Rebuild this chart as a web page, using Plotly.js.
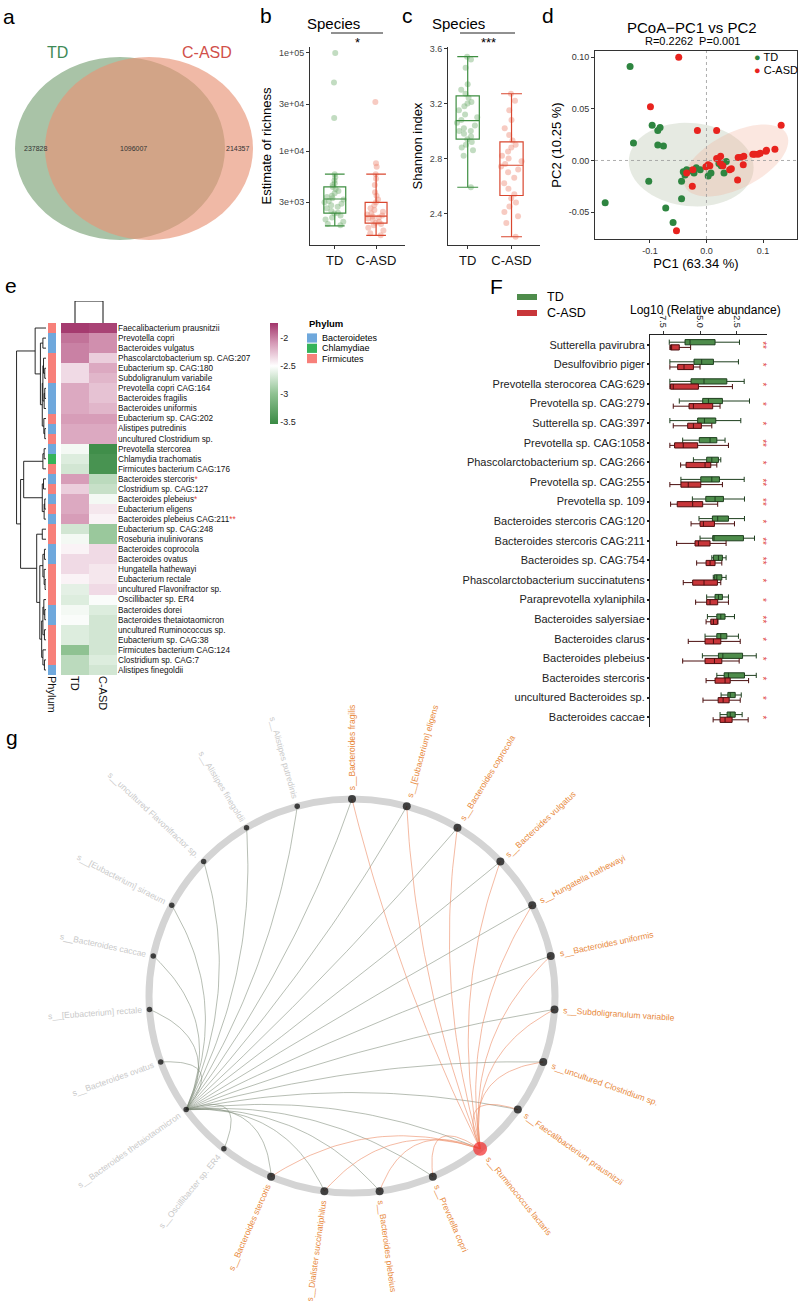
<!DOCTYPE html>
<html>
<head>
<meta charset="utf-8">
<script src="https://cdn.plot.ly/plotly-3.0.1.min.js"></script>
<style>
html,body{margin:0;padding:0;background:#ffffff;}
#chart{width:800px;height:1301px;}
</style>
</head>
<body>
<div id="chart"></div>
<script>
// ===================== DATA =====================
// a: Venn
const vennSets = ['TD', 'C-ASD'];
const vennCounts = [237828, 1096007, 214357]; // TD only, shared, C-ASD only

// b / c: alpha diversity
const groupNames = ['TD', 'C-ASD'];
const richQ1 = [2330, 1840];
const richMedian = [3240, 2170];
const richQ3 = [4300, 3000];
const richLow = [1720, 1380];
const richHigh = [5820, 5820];
const richTD = [1750,1800,1900,2000,2100,2200,2300,2350,2450,2600,2700,2800,2900,3000,3100,3200,3300,3400,3500,3700,3900,4100,4300,4500,4700,5000,5400,5800,21700,50000,100000];
const richCASD = [1380,1450,1550,1650,1750,1800,1850,1900,2000,2050,2100,2150,2200,2250,2300,2400,2500,2600,2800,3000,3200,3500,3800,4500,5200,5800,6900,7500,31600];

const shanQ1 = [2.94, 2.53];
const shanMedian = [3.075, 2.75];
const shanQ3 = [3.255, 2.92];
const shanLow = [2.59, 2.23];
const shanHigh = [3.54, 3.27];
const shanTD = [2.59,2.82,2.86,2.88,2.9,2.92,2.94,2.96,2.98,3.0,3.0,3.02,3.04,3.06,3.08,3.1,3.12,3.15,3.18,3.2,3.21,3.24,3.27,3.3,3.34,3.46,3.52,3.54];
const shanCASD = [2.23,2.33,2.38,2.41,2.45,2.48,2.51,2.54,2.58,2.62,2.66,2.7,2.72,2.74,2.76,2.78,2.8,2.82,2.85,2.88,2.9,2.93,2.97,3.02,3.08,3.15,3.22,3.27];

// d: PCoA
const pcoaTDx = [-0.135,-0.096,-0.082,-0.086,-0.129,-0.086,-0.076,-0.179,-0.102,-0.044,-0.072,-0.059,-0.044,-0.038,-0.035,-0.029,-0.022,-0.011,0.003,0.008,0.022,0.026,0.031,0.035,-0.041,-0.018,0.029];
const pcoaTDy = [0.091,0.034,0.032,0.029,0.017,0.015,0.014,-0.041,-0.020,-0.037,-0.046,-0.060,-0.020,-0.014,-0.009,-0.010,-0.012,-0.009,-0.015,-0.012,-0.003,-0.005,-0.012,-0.001,-0.011,-0.007,-0.003];
const pcoaCx = [-0.049,-0.099,-0.016,0.018,0.132,0.121,0.105,0.106,0.091,0.082,0.066,0.060,0.056,0.065,0.055,0.044,0.041,0.024,0.018,0.025,0.006,-0.001,0.003,-0.024,-0.035,-0.025,-0.053,0.029,0.085,0.095];
const pcoaCy = [0.100,0.052,0.029,0.029,0.034,0.011,0.009,0.010,0.006,0.006,0.004,0.003,0.003,-0.004,-0.019,-0.008,-0.009,-0.002,0.002,0.004,-0.005,-0.006,-0.004,-0.009,-0.012,-0.025,-0.068,-0.005,0.006,0.007];
// confidence ellipses: centre, semi-axis A, semi-axis B
const ellTD = [-0.027, -0.004, 0.110, -0.006, 0.008, 0.040];
const ellCASD = [0.052, 0.000, 0.092, 0.022, -0.010, 0.027];

// e: heatmap
const hmSpecies = ['Faecalibacterium prausnitzii','Prevotella copri','Bacteroides vulgatus','Phascolarctobacterium sp. CAG:207','Eubacterium sp. CAG:180','Subdoligranulum variabile','Prevotella copri CAG:164','Bacteroides fragilis','Bacteroides uniformis','Eubacterium sp. CAG:202','Alistipes putredinis','uncultured Clostridium sp.','Prevotella stercorea','Chlamydia trachomatis','Firmicutes bacterium CAG:176','Bacteroides stercoris','Clostridium sp. CAG:127','Bacteroides plebeius','Eubacterium eligens','Bacteroides plebeius CAG:211','Eubacterium sp. CAG:248','Roseburia inulinivorans','Bacteroides coprocola','Bacteroides ovatus','Hungatella hathewayi','Eubacterium rectale','uncultured Flavonifractor sp.','Oscillibacter sp. ER4','Bacteroides dorei','Bacteroides thetaiotaomicron','uncultured Ruminococcus sp.','Eubacterium sp. CAG:38','Firmicutes bacterium CAG:124','Clostridium sp. CAG:7','Alistipes finegoldii'];
const hmStars = ['','','','','','','','','','','','','','','','*','','*','','**','','','','','','','','','','','','','','',''];
const hmTD = [-1.75,-1.95,-2.0,-2.0,-2.35,-2.35,-2.15,-2.15,-2.15,-2.1,-2.15,-2.15,-2.55,-2.65,-2.7,-2.1,-2.3,-2.15,-2.15,-2.1,-2.7,-2.55,-2.45,-2.35,-2.35,-2.45,-2.62,-2.65,-2.55,-2.52,-2.65,-2.65,-3.0,-2.8,-2.8];
const hmCASD = [-1.78,-2.05,-2.05,-2.3,-2.15,-2.2,-2.25,-2.25,-2.2,-2.1,-2.15,-2.15,-3.5,-3.45,-3.45,-2.8,-2.75,-2.55,-2.4,-2.45,-2.95,-2.95,-2.35,-2.35,-2.4,-2.4,-2.35,-2.52,-2.65,-2.7,-2.7,-2.7,-2.7,-2.65,-2.7];
const phylumNames = ['Bacteroidetes','Chlamydiae','Firmicutes'];
const hmPhylum = ['Firmicutes','Bacteroidetes','Bacteroidetes','Firmicutes','Firmicutes','Firmicutes','Bacteroidetes','Bacteroidetes','Bacteroidetes','Firmicutes','Bacteroidetes','Firmicutes','Bacteroidetes','Chlamydiae','Firmicutes','Bacteroidetes','Firmicutes','Bacteroidetes','Firmicutes','Bacteroidetes','Firmicutes','Firmicutes','Bacteroidetes','Bacteroidetes','Firmicutes','Firmicutes','Firmicutes','Firmicutes','Bacteroidetes','Bacteroidetes','Firmicutes','Firmicutes','Firmicutes','Firmicutes','Bacteroidetes'];
// row clustering tree: [left, right, height]
const rowTree = [
  [0, [[1,2,0.1], [[[3,[4,5,0.04],0.08],[[6,7,0.04],8,0.06],0.1],[9,[10,11,0.04],0.07],0.12],0.18], 0.35],
  [ [[[12,13,0.06],14,0.1], [[15,16,0.08],[[17,18,0.04],19,0.06],0.12], 0.72],
    [[20,21,0.12], [[[22,23,0.05],[24,[25,26,0.03],0.06],0.1],[[[27,[28,29,0.04],0.07],[30,31,0.05],0.1],[32,[33,34,0.05],0.1],0.14],0.2],0.3],
    0.82],
  0.95];
const colTree = [0, 1, 1];

// F: differential species
const fSpecies = ['Sutterella pavirubra','Desulfovibrio piger','Prevotella sterocorea CAG:629','Prevotella sp. CAG:279','Sutterella sp. CAG:397','Prevotella sp. CAG:1058','Phascolarctobacterium sp. CAG:266','Prevotella sp. CAG:255','Prevotella sp. 109','Bacteroides stercoris CAG:120','Bacteroides stercoris CAG:211','Bacteroides sp. CAG:754','Phascolarctobacterium succinatutens','Paraprevotella xylaniphila','Bacteroides salyersiae','Bacteroides clarus','Bacteroides plebeius','Bacteroides stercoris','uncultured Bacteroides sp.','Bacteroides caccae'];
const fTDlo  = [-7.09,-7.05,-7.05,-6.41,-7.05,-6.18,-5.45,-6.3,-5.52,-5.07,-5.0,-4.2,-4.1,-4.55,-4.5,-4.66,-4.84,-3.86,-3.57,-3.64];
const fTDq1  = [-6.02,-5.41,-5.61,-4.82,-5.16,-5.05,-4.55,-4.95,-4.61,-4.16,-4.14,-4.09,-4.03,-3.98,-3.86,-3.86,-3.75,-3.36,-3.11,-3.16];
const fTDmed = [-5.68,-4.89,-4.73,-4.43,-4.70,-4.32,-4.2,-4.2,-3.98,-3.80,-4.05,-3.75,-3.86,-3.75,-3.59,-3.59,-3.45,-3.07,-2.95,-2.95];
const fTDq3  = [-3.98,-4.09,-3.18,-3.48,-3.93,-3.86,-3.75,-3.68,-3.41,-3.07,-2.05,-3.48,-3.52,-3.48,-3.30,-3.18,-2.11,-1.98,-2.61,-2.61];
const fTDhi  = [-2.32,-2.39,-2.0,-1.64,-2.23,-3.30,-3.59,-2.0,-1.98,-1.98,-1.30,-3.23,-3.23,-3.07,-2.66,-2.39,-1.18,-1.18,-2.20,-2.14];
const fClo   = [-7.05,-7.05,-7.05,-6.82,-6.82,-7.05,-6.32,-7.05,-7.0,-5.61,-6.59,-5.23,-6.14,-5.30,-4.59,-5.80,-6.18,-4.59,-4.8,-4.11];
const fCq1   = [-7.0,-6.52,-7.0,-5.75,-5.84,-6.73,-5.95,-6.3,-6.55,-5.0,-5.34,-4.59,-5.5,-4.55,-4.27,-4.66,-4.66,-3.98,-3.77,-3.64];
const fCmed  = [-6.93,-6.09,-6.82,-5.45,-5.45,-6.14,-4.66,-5.8,-5.5,-4.77,-5.11,-4.32,-4.73,-4.32,-4.09,-4.09,-4.02,-3.30,-3.43,-3.3];
const fCq3   = [-6.41,-5.45,-5.11,-4.14,-4.91,-5.16,-4.27,-4.95,-4.82,-4.02,-4.32,-3.98,-3.82,-3.80,-3.82,-3.59,-3.52,-2.95,-3.02,-2.82];
const fChi   = [-5.64,-5.0,-2.80,-3.64,-4.2,-3.07,-3.86,-3.48,-3.80,-2.66,-3.23,-3.52,-3.59,-3.07,-3.78,-2.27,-2.34,-1.70,-2.27,-1.73];
const fSig = ['**','*','*','*','*','**','*','**','**','*','**','**','*','*','**','*','*','*','*','*'];

// g: correlation network
const chordNodes = ['Bacteroides fragilis','[Eubacterium] eligens','Bacteroides coprocola','Bacteroides vulgatus','Hungatella hathewayi','Bacteroides uniformis','Subdoligranulum variabile','uncultured Clostridium sp.','Faecalibacterium prausnitzii','Ruminococcus lactaris','Prevotella copri','Bacteroides plebeius','Dialister succinatiphilus','Bacteroides stercoris','Oscillibacter sp. ER4','Bacteroides thetaiotaomicron','Bacteroides ovatus','[Eubacterium] rectale','Bacteroides caccae','[Eubacterium] siraeum','uncultured Flavonifractor sp.','Alistipes finegoldii','Alistipes putredinis'];
const chordSignificant = [1,1,1,1,1,1,1,1,1,1,1,1,1,1,0,0,0,0,0,0,0,0,0];
const hubTheta = 'Bacteroides thetaiotaomicron';
const thetaTargets = ['Bacteroides fragilis','[Eubacterium] eligens','Bacteroides coprocola','Bacteroides vulgatus','Hungatella hathewayi','Bacteroides uniformis','Subdoligranulum variabile','uncultured Clostridium sp.','Faecalibacterium prausnitzii','Ruminococcus lactaris','Prevotella copri','Bacteroides plebeius','Dialister succinatiphilus','Bacteroides stercoris','Oscillibacter sp. ER4','Bacteroides ovatus','[Eubacterium] rectale','Bacteroides caccae','[Eubacterium] siraeum','uncultured Flavonifractor sp.','Alistipes finegoldii','Alistipes putredinis'];
const hubLactaris = 'Ruminococcus lactaris';
const lactarisTargets = ['Bacteroides fragilis','[Eubacterium] eligens','Bacteroides coprocola','Bacteroides vulgatus','Hungatella hathewayi','Bacteroides uniformis','Subdoligranulum variabile','uncultured Clostridium sp.','Faecalibacterium prausnitzii','Prevotella copri','Bacteroides plebeius','Dialister succinatiphilus','Bacteroides stercoris'];

// ===================== STYLE / HELPERS =====================
const W = 800, H = 1301;
const PX = v => v / W, PY = v => 1 - v / H;
const cTDline = '#3E8E41', cCline = '#D9472F';
const cTDpt = 'rgba(120,178,118,0.45)', cCpt = 'rgba(238,140,120,0.45)';
const phylumColors = ['#6FA8DC', '#35B35A', '#F7807A'];
const data = [], shapes = [], annotations = [];
function txt(x, y, text, size, extra) {
  annotations.push(Object.assign({xref: 'x', yref: 'y', x: x, y: y, text: text, showarrow: false,
    font: {size: size, color: '#000'}, xanchor: 'center', yanchor: 'middle'}, extra || {}));
}

// ---------- panel letters ----------
txt(9, 16, 'a', 21); txt(266, 15, 'b', 21); txt(407, 15, 'c', 21); txt(548, 15, 'd', 21);
txt(11, 285, 'e', 21); txt(496, 286, 'F', 21); txt(12, 737, 'g', 21);

// ---------- a: Venn ----------
shapes.push({type: 'circle', xref: 'x', yref: 'y', x0: 15, x1: 225, y0: 57, y1: 240, fillcolor: '#A9C3A7', line: {width: 0}, layer: 'below'});
shapes.push({type: 'circle', xref: 'x', yref: 'y', x0: 45, x1: 253, y0: 57, y1: 240, fillcolor: 'rgba(232,148,118,0.65)', line: {width: 0}, layer: 'below'});
txt(57, 52, vennSets[0], 16, {font: {size: 16, color: '#3E8A56'}});
txt(207, 52, vennSets[1], 16, {font: {size: 16, color: '#D1504A'}});
txt(35, 148, String(vennCounts[0]), 7, {font: {size: 7, color: '#333'}});
txt(133, 148, String(vennCounts[1]), 7, {font: {size: 7, color: '#333'}});
txt(237, 148, String(vennCounts[2]), 7, {font: {size: 7, color: '#333'}});

// ---------- b & c: boxplots ----------
function alphaTraces(ax, ay, q1, med, q3, lo, hi, ptsTD, ptsC) {
  const sets = [[ptsTD, 0, cTDline, cTDpt], [ptsC, 1, cCline, cCpt]];
  sets.forEach(s => {
    data.push({type: 'box', x: s[0].map(() => groupNames[s[1]]), y: s[0], xaxis: ax, yaxis: ay, offsetgroup: 'v',
      boxpoints: 'all', jitter: 1, pointpos: 0, line: {color: 'rgba(0,0,0,0)'}, fillcolor: 'rgba(0,0,0,0)',
      marker: {color: s[3], size: 6, line: {width: 0}}, hoverinfo: 'skip'});
  });
  sets.forEach(s => {
    const i = s[1];
    data.push({type: 'box', x: [groupNames[i]], q1: [q1[i]], median: [med[i]], q3: [q3[i]], lowerfence: [lo[i]], upperfence: [hi[i]],
      xaxis: ax, yaxis: ay, offsetgroup: 'v', boxpoints: false, whiskerwidth: 0.9,
      line: {color: s[2], width: 1.2}, fillcolor: 'rgba(0,0,0,0)', hoverinfo: 'skip'});
  });
}
alphaTraces('x2', 'y2', richQ1, richMedian, richQ3, richLow, richHigh, richTD, richCASD);
alphaTraces('x3', 'y3', shanQ1, shanMedian, shanQ3, shanLow, shanHigh, shanTD, shanCASD);
txt(333, 23, 'Species', 15); txt(458, 23, 'Species', 15);
shapes.push({type: 'line', xref: 'x', yref: 'y', x0: 331, x1: 383, y0: 33, y1: 33, line: {color: '#222', width: 1}});
shapes.push({type: 'line', xref: 'x', yref: 'y', x0: 460, x1: 515, y0: 33, y1: 33, line: {color: '#222', width: 1}});
txt(357, 42, '*', 13); txt(488, 42, '***', 13);

// ---------- d: PCoA ----------
function ellipsePath(e) {
  let p = '';
  for (let i = 0; i <= 72; i++) {
    const t = i / 72 * 2 * Math.PI;
    const x = e[0] + e[2] * Math.cos(t) + e[4] * Math.sin(t);
    const y = e[1] + e[3] * Math.cos(t) + e[5] * Math.sin(t);
    p += (i === 0 ? 'M' : 'L') + x + ',' + y;
  }
  return p + 'Z';
}
shapes.push({type: 'path', xref: 'x4', yref: 'y4', path: ellipsePath(ellTD), fillcolor: 'rgba(165,178,150,0.28)', line: {width: 0}, layer: 'below'});
shapes.push({type: 'path', xref: 'x4', yref: 'y4', path: ellipsePath(ellCASD), fillcolor: 'rgba(242,170,145,0.28)', line: {width: 0}, layer: 'below'});
shapes.push({type: 'line', xref: 'x4', yref: 'y4 domain', x0: 0, x1: 0, y0: 0, y1: 1, line: {color: '#999', width: 0.8, dash: 'dot'}});
shapes.push({type: 'line', xref: 'x4 domain', yref: 'y4', x0: 0, x1: 1, y0: 0, y1: 0, line: {color: '#999', width: 0.8, dash: 'dot'}});
data.push({type: 'scatter', mode: 'markers', x: pcoaTDx, y: pcoaTDy, xaxis: 'x4', yaxis: 'y4', marker: {color: '#2E8540', size: 7}, hoverinfo: 'skip'});
data.push({type: 'scatter', mode: 'markers', x: pcoaCx, y: pcoaCy, xaxis: 'x4', yaxis: 'y4', marker: {color: '#E8231E', size: 7}, hoverinfo: 'skip'});
txt(692, 27, 'PCoA\u2212PC1 vs PC2', 15);
txt(692, 41, 'R=0.2262  P=0.001', 11);
txt(752, 57, '<span style="color:#2E8540">\u25CF</span> ' + groupNames[0], 11, {xanchor: 'left'});
txt(752, 70, '<span style="color:#E8231E">\u25CF</span> ' + groupNames[1], 11, {xanchor: 'left'});

// ---------- e: heatmap ----------
const rowIdx = hmSpecies.map((_, i) => i);
data.push({type: 'heatmap', x: groupNames, y: rowIdx, z: hmSpecies.map((_, i) => [hmTD[i], hmCASD[i]]),
  xaxis: 'x5', yaxis: 'y5', zmin: -3.54, zmax: -1.73,
  colorscale: [[0, '#3A8A44'], [0.3, '#8FC292'], [0.575, '#FFFFFF'], [0.8, '#D69BB7'], [1, '#A2356B']],
  colorbar: {x: PX(270), xanchor: 'left', y: PY(373.5), yanchor: 'middle', len: 101 / H, lenmode: 'fraction',
    thickness: 8, thicknessmode: 'pixels', outlinewidth: 0, xpad: 0, ypad: 0, ticks: '',
    tickvals: [-2, -2.5, -3, -3.5], ticktext: ['-2', '-2.5', '-3', '-3.5'], tickfont: {size: 9, color: '#222'}},
  hoverinfo: 'skip'});
data.push({type: 'heatmap', x: ['Phylum'], y: rowIdx, z: hmPhylum.map(p => [phylumNames.indexOf(p)]),
  xaxis: 'x6', yaxis: 'y6', zmin: 0, zmax: 2, showscale: false,
  colorscale: [[0, phylumColors[0]], [0.333, phylumColors[0]], [0.334, phylumColors[1]], [0.666, phylumColors[1]], [0.667, phylumColors[2]], [1, phylumColors[2]]],
  hoverinfo: 'skip'});
function dendro(node, xs, ys, rowMode) {
  if (typeof node === 'number') return {pos: node, h: 0};
  const a = dendro(node[0], xs, ys, rowMode), b = dendro(node[1], xs, ys, rowMode), h = node[2];
  const pts = [[a.h, a.pos], [h, a.pos], [h, b.pos], [b.h, b.pos]];
  pts.forEach(p => { if (rowMode) { xs.push(p[0]); ys.push(p[1]); } else { xs.push(p[1]); ys.push(p[0]); } });
  xs.push(null); ys.push(null);
  return {pos: (a.pos + b.pos) / 2, h: h};
}
const rdx = [], rdy = [];
dendro(rowTree, rdx, rdy, true);
data.push({type: 'scatter', mode: 'lines', x: rdx, y: rdy, xaxis: 'x7', yaxis: 'y7', line: {color: '#111', width: 0.9}, hoverinfo: 'skip'});
const cdx = [], cdy = [];
dendro(colTree, cdx, cdy, false);
data.push({type: 'scatter', mode: 'lines', x: cdx, y: cdy, xaxis: 'x8', yaxis: 'y8', line: {color: '#111', width: 1}, hoverinfo: 'skip'});
// phylum legend
txt(307, 323, '<b>Phylum</b>', 9.5, {xanchor: 'left'});
phylumNames.forEach((p, i) => {
  const yc = 338 + i * 10.3;
  shapes.push({type: 'rect', xref: 'x', yref: 'y', x0: 307, x1: 317, y0: yc - 4.6, y1: yc + 4.6, fillcolor: phylumColors[i], line: {width: 0}});
  txt(320, yc, p, 9, {xanchor: 'left'});
});

// ---------- F: differential species ----------
data.push({type: 'box', orientation: 'h', y: fSpecies, q1: fTDq1, median: fTDmed, q3: fTDq3, lowerfence: fTDlo, upperfence: fTDhi,
  xaxis: 'x9', yaxis: 'y9', offsetgroup: 'td', boxpoints: false, whiskerwidth: 1,
  fillcolor: '#4E8C4B', line: {color: '#1E3F1E', width: 1}, hoverinfo: 'skip'});
data.push({type: 'box', orientation: 'h', y: fSpecies, q1: fCq1, median: fCmed, q3: fCq3, lowerfence: fClo, upperfence: fChi,
  xaxis: 'x9', yaxis: 'y9', offsetgroup: 'casd', boxpoints: false, whiskerwidth: 1,
  fillcolor: '#C8363A', line: {color: '#4A0E0E', width: 1}, hoverinfo: 'skip'});
fSpecies.forEach((s, i) => {
  annotations.push({xref: 'x9', yref: 'y9', x: -0.75, y: s, text: fSig[i], textangle: 90, showarrow: false,
    font: {size: 10, color: '#E04848'}, xanchor: 'center', yanchor: 'middle'});
});
txt(705, 310, 'Log10 (Relative abundance)', 12);
shapes.push({type: 'rect', xref: 'x', yref: 'y', x0: 517, x1: 537, y0: 294, y1: 300, fillcolor: '#4E8C4B', line: {width: 0}});
shapes.push({type: 'rect', xref: 'x', yref: 'y', x0: 517, x1: 537, y0: 310, y1: 316, fillcolor: '#C8363A', line: {width: 0}});
txt(545, 297, groupNames[0], 12.5, {xanchor: 'left'});
txt(545, 313, groupNames[1], 12.5, {xanchor: 'left'});

// ---------- g: network ----------
const gcx = 352, gcy = 996, grx = 203, gry = 197;
const nN = chordNodes.length;
const ang = chordNodes.map((_, k) => (90 - k * 360 / nN) * Math.PI / 180);
const nodeX = ang.map(a => gcx + grx * Math.cos(a));
const nodeY = ang.map(a => gcy - gry * Math.sin(a));
shapes.push({type: 'circle', xref: 'x', yref: 'y', x0: gcx - grx, x1: gcx + grx, y0: gcy - gry, y1: gcy + gry,
  line: {color: '#D4D4D4', width: 7}, layer: 'below'});
function edgeTrace(hub, targets, color) {
  const h = chordNodes.indexOf(hub);
  const xs = [], ys = [];
  targets.forEach(t => {
    const k = chordNodes.indexOf(t);
    const x0 = nodeX[h], y0 = nodeY[h], x2 = nodeX[k], y2 = nodeY[k];
    const mx = (x0 + x2) / 2, my = (y0 + y2) / 2;
    const x1 = mx + (gcx - mx) * 0.3, y1 = my + (gcy - my) * 0.3;
    for (let i = 0; i <= 40; i++) {
      const s = i / 40;
      xs.push((1 - s) * (1 - s) * x0 + 2 * (1 - s) * s * x1 + s * s * x2);
      ys.push((1 - s) * (1 - s) * y0 + 2 * (1 - s) * s * y1 + s * s * y2);
    }
    xs.push(null); ys.push(null);
  });
  return {type: 'scatter', mode: 'lines', x: xs, y: ys, xaxis: 'x', yaxis: 'y', line: {color: color, width: 0.8}, hoverinfo: 'skip'};
}
data.push(edgeTrace(hubTheta, thetaTargets, 'rgba(125,138,120,0.7)'));
data.push(edgeTrace(hubLactaris, lactarisTargets, 'rgba(236,140,100,0.75)'));
const nodeSize = chordNodes.map((n, k) => n === hubLactaris ? 14 : (chordSignificant[k] ? 8 : 5.5));
data.push({type: 'scatter', mode: 'markers', x: nodeX, y: nodeY, xaxis: 'x', yaxis: 'y',
  marker: {size: nodeSize, color: chordNodes.map(n => n === hubLactaris ? '#F22A2A' : '#000'), line: {width: 0}}, hoverinfo: 'skip'});
const mctx = document.createElement('canvas').getContext('2d');
mctx.font = '8.5px Arial';
chordNodes.forEach((name, k) => {
  const text = 's__' + name;
  const w = mctx.measureText(text).width;
  const a = ang[k];
  const dx = Math.cos(a), dy = -Math.sin(a);
  const gap = nodeSize[k] / 2 + 4;
  const cxp = nodeX[k] + dx * (gap + w / 2 + 1);
  const cyp = nodeY[k] + dy * (gap + w / 2 + 1);
  const deg = a * 180 / Math.PI;
  let ta = Math.cos(a) > -1e-9 ? -deg : 180 - deg;
  while (ta > 180) ta -= 360;
  while (ta <= -180) ta += 360;
  annotations.push({xref: 'x', yref: 'y', x: cxp, y: cyp, text: text, textangle: ta, showarrow: false,
    font: {size: 8.5, color: chordSignificant[k] ? '#E8893C' : '#C9C9C9'}, xanchor: 'center', yanchor: 'middle', borderpad: 0});
});

// ===================== LAYOUT =====================
const hid = {visible: false, showgrid: false, zeroline: false, automargin: false, fixedrange: true};
const lineAx = {showline: true, linecolor: '#333', linewidth: 1, ticks: 'outside', ticklen: 3, tickcolor: '#333',
  showgrid: false, zeroline: false, automargin: false};
const layout = {
  width: W, height: H, margin: {l: 0, r: 0, t: 0, b: 0}, showlegend: false,
  paper_bgcolor: '#ffffff', plot_bgcolor: 'rgba(0,0,0,0)',
  font: {family: 'Arial, "Liberation Sans", sans-serif', color: '#000'},
  boxmode: 'group', boxgap: 0.47, boxgroupgap: 0,
  xaxis: Object.assign({}, hid, {domain: [0, 1], range: [0, W], anchor: 'y'}),
  yaxis: Object.assign({}, hid, {domain: [0, 1], range: [H, 0], anchor: 'x'}),
  xaxis2: Object.assign({}, lineAx, {domain: [PX(310), PX(405)], anchor: 'y2', type: 'category', categoryorder: 'array', categoryarray: groupNames,
    range: [-0.6, 1.7], tickfont: {size: 13, color: '#111'}}),
  yaxis2: Object.assign({}, lineAx, {domain: [PY(245), PY(47)], anchor: 'x2', type: 'log', range: [Math.log10(1100), Math.log10(115000)],
    tickvals: [3000, 10000, 30000, 100000], ticktext: ['3e+03', '1e+04', '3e+04', '1e+05'], tickfont: {size: 9, color: '#444'},
    title: {text: 'Estimate of richness', font: {size: 13}, standoff: 4}}),
  xaxis3: Object.assign({}, lineAx, {domain: [PX(448), PX(540)], anchor: 'y3', type: 'category', categoryorder: 'array', categoryarray: groupNames,
    range: [-0.45, 1.65], tickfont: {size: 13, color: '#111'}}),
  yaxis3: Object.assign({}, lineAx, {domain: [PY(245), PY(47)], anchor: 'x3', range: [2.17, 3.61],
    tickvals: [2.4, 2.8, 3.2, 3.6], ticktext: ['2.4', '2.8', '3.2', '3.6'], tickfont: {size: 9, color: '#444'},
    title: {text: 'Shannon index', font: {size: 13}, standoff: 4}}),
  xaxis4: Object.assign({}, lineAx, {domain: [PX(595), PX(797)], anchor: 'y4', range: [-0.197, 0.16], mirror: true,
    tickvals: [-0.1, 0, 0.1], ticktext: ['-0.1', '0.0', '0.1'], tickfont: {size: 9, color: '#333'},
    title: {text: 'PC1 (63.34 %)', font: {size: 13}, standoff: 2}}),
  yaxis4: Object.assign({}, lineAx, {domain: [PY(239), PY(51)], anchor: 'x4', range: [-0.076, 0.106], mirror: true,
    tickvals: [-0.05, 0, 0.05, 0.1], ticktext: ['-0.05', '0.00', '0.05', '0.10'], tickfont: {size: 9, color: '#333'},
    title: {text: 'PC2 (10.25 %)', font: {size: 13}, standoff: 4}}),
  xaxis5: {domain: [PX(61), PX(117)], anchor: 'y5', type: 'category', categoryorder: 'array', categoryarray: groupNames,
    tickangle: 90, tickfont: {size: 11, color: '#111'}, ticks: '', showline: false, showgrid: false, zeroline: false, automargin: false},
  yaxis5: {domain: [PY(675), PY(323)], anchor: 'x5', range: [34.5, -0.5], side: 'right', tickvals: rowIdx,
    ticktext: hmSpecies.map((s, i) => s + (hmStars[i] ? '<span style="color:#E8473A">' + hmStars[i] + '</span>' : '')),
    tickfont: {size: 8.2, color: '#111'}, ticks: '', showline: false, showgrid: false, zeroline: false, automargin: false},
  xaxis6: {domain: [PX(48), PX(56)], anchor: 'y6', type: 'category', tickangle: 90, tickfont: {size: 11, color: '#111'},
    ticks: '', showline: false, showgrid: false, zeroline: false, automargin: false},
  yaxis6: Object.assign({}, hid, {domain: [PY(675), PY(323)], anchor: 'x6', range: [34.5, -0.5]}),
  xaxis7: Object.assign({}, hid, {domain: [PX(15), PX(46)], anchor: 'y7', range: [1, 0]}),
  yaxis7: Object.assign({}, hid, {domain: [PY(675), PY(323)], anchor: 'x7', range: [34.5, -0.5]}),
  xaxis8: Object.assign({}, hid, {domain: [PX(61), PX(117)], anchor: 'y8', range: [-0.5, 1.5]}),
  yaxis8: Object.assign({}, hid, {domain: [PY(323), PY(301)], anchor: 'x8', range: [0, 1]}),
  xaxis9: Object.assign({}, lineAx, {domain: [PX(650), PX(767)], anchor: 'y9', side: 'top', range: [-8.4, -0.45],
    tickvals: [-7.5, -5, -2.5], ticktext: ['-7.5', '-5.0', '-2.5'], tickangle: 90, tickfont: {size: 9, color: '#222'}, linecolor: '#222'}),
  yaxis9: Object.assign({}, lineAx, {domain: [PY(727), PY(335)], anchor: 'x9', type: 'category', categoryorder: 'array', categoryarray: fSpecies,
    range: [19.5, -0.5], ticklen: 2, tickwidth: 2, tickcolor: '#222', linecolor: '#222', tickfont: {size: 11, color: '#222'}}),
  shapes: shapes,
  annotations: annotations
};

Plotly.newPlot('chart', data, layout, {staticPlot: true, displayModeBar: false});
</script>
</body>
</html>
